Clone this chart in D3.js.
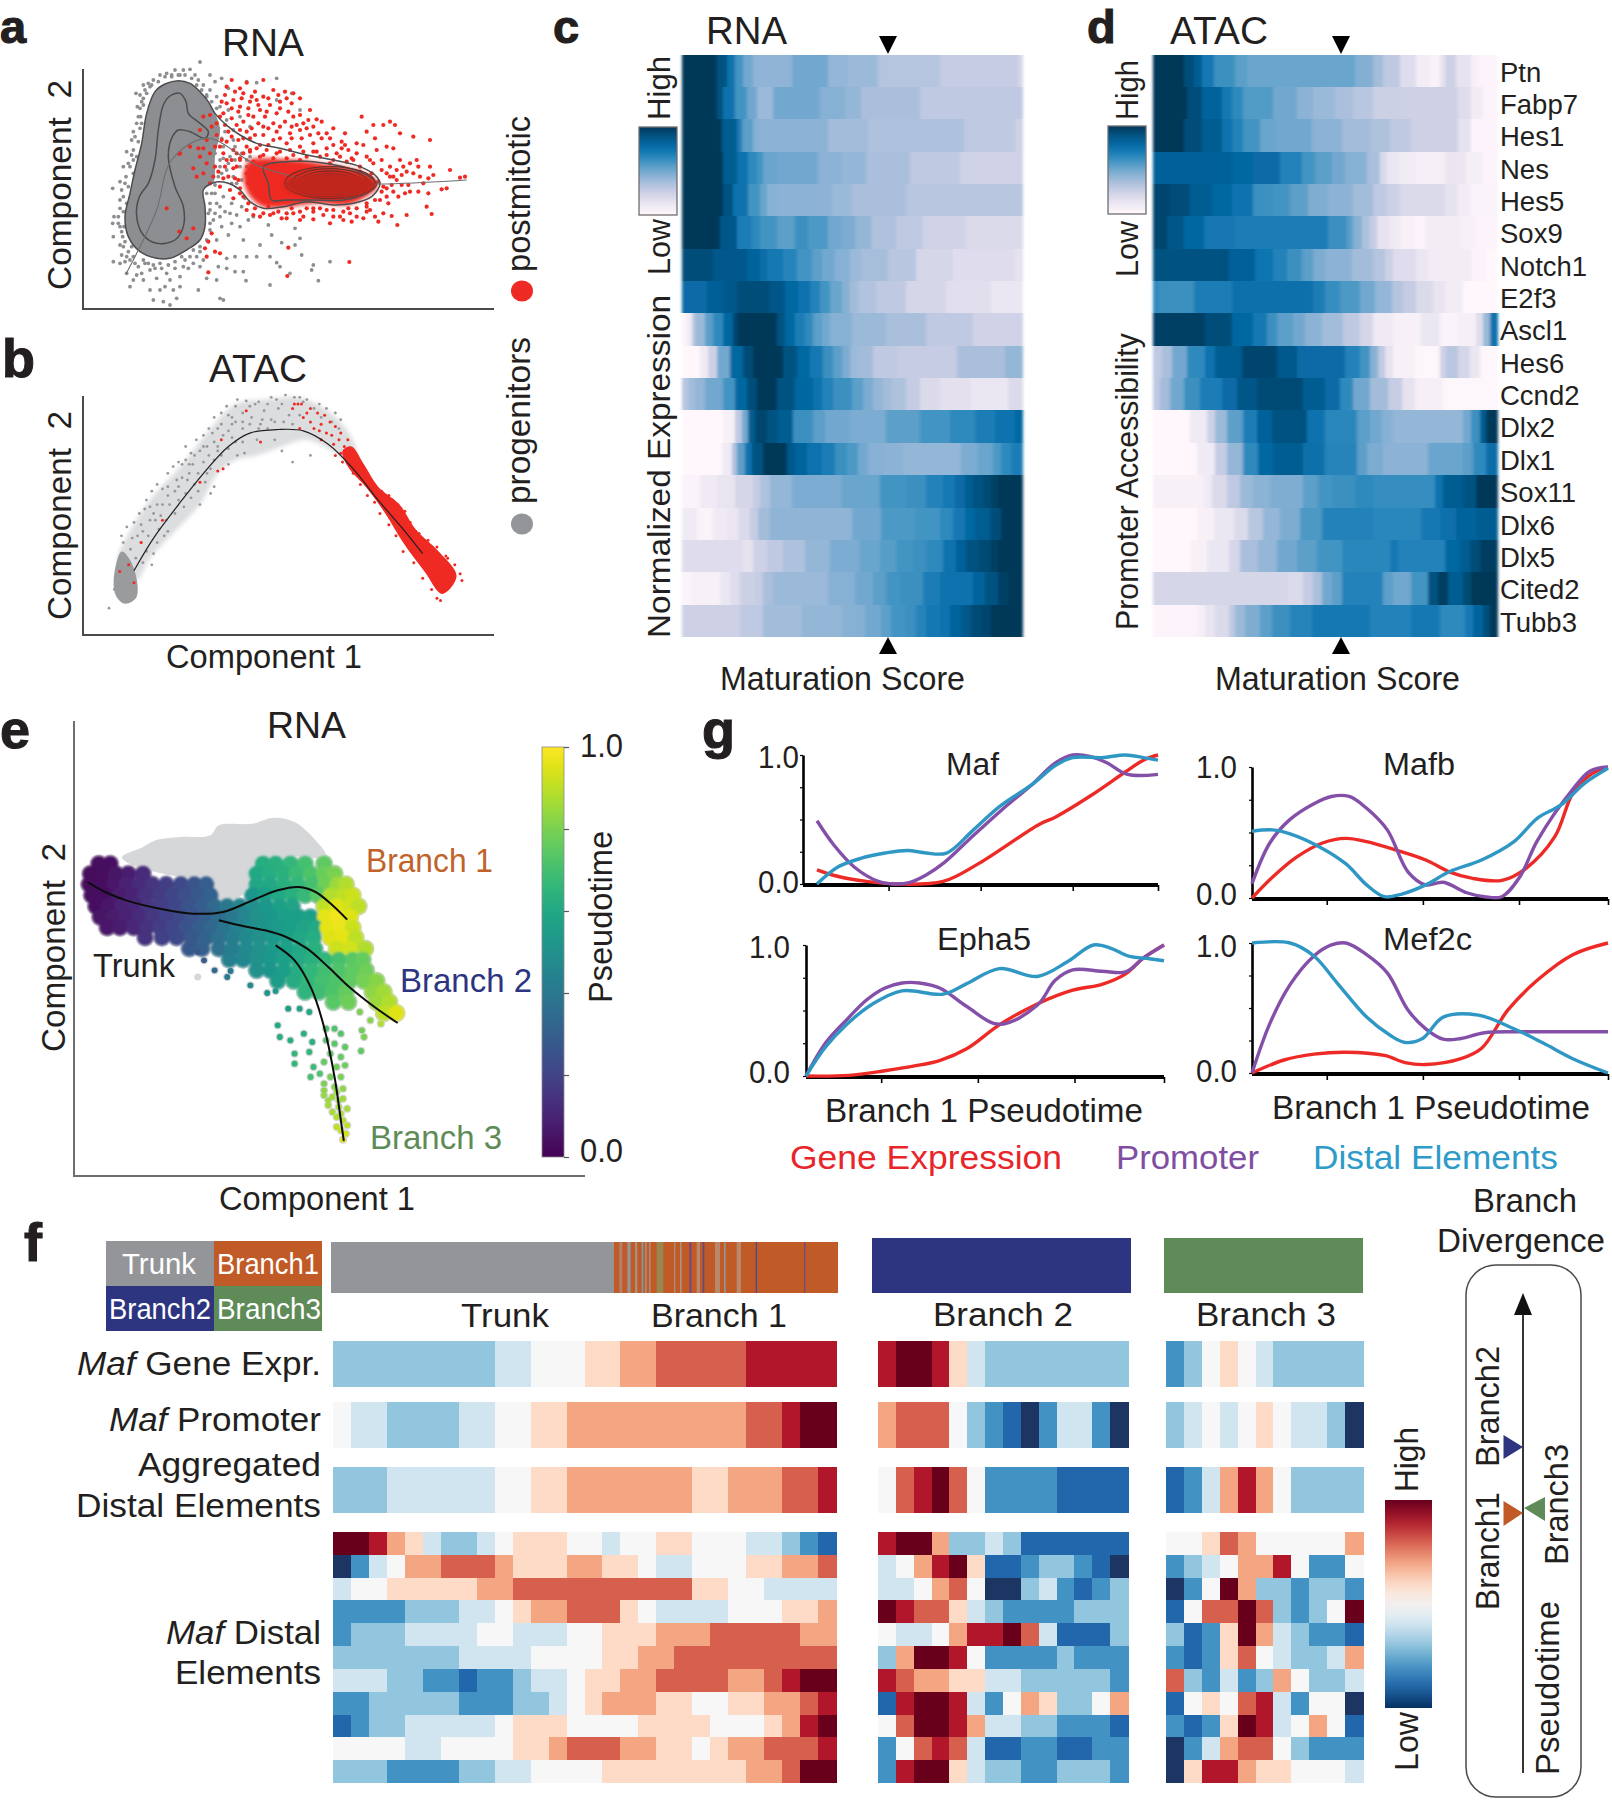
<!DOCTYPE html>
<html><head><meta charset="utf-8"><script src="https://cdn.jsdelivr.net/npm/d3@7"></script>
<style>html,body{margin:0;padding:0;background:#fff}svg{display:block}text{font-family:"Liberation Sans",Arial,sans-serif;fill:#231f20}</style></head><body><div id="chart"></div>
<script>
// ---------- panel a: RNA component space
const aLobe=[[165,95],[195,72],[235,62],[270,70],[300,95],[325,125],[345,160],[360,210],[345,290],[340,368],[310,390],[315,440],[315,500],[300,540],[260,570],[210,595],[170,595],[120,575],[85,530],[75,470],[90,400],[105,330],[125,250],[140,160]];
const aOuterContour=[[165,95],[195,72],[235,62],[270,70],[300,95],[325,125],[345,160],[385,200],[420,225],[470,250],[540,265],[620,285],[700,300],[780,320],[830,350],[840,372],[815,410],[760,430],[700,435],[620,425],[550,440],[490,445],[450,425],[420,390],[385,370],[340,368],[310,390],[315,440],[315,500],[300,540],[260,570],[210,595],[170,595],[120,575],[85,530],[75,470],[90,400],[105,330],[125,250],[140,160]];
const aMidContour=[[190,135],[210,108],[240,100],[258,125],[265,160],[300,190],[325,215],[315,235],[270,215],[235,210],[215,235],[205,290],[225,380],[250,440],[250,500],[225,540],[170,550],[130,525],[110,470],[118,410],[145,370],[165,300],[175,210]];
const aRedContour=[[490,320],[560,305],[640,305],[730,320],[800,345],[830,372],[800,400],[730,420],[640,420],[560,420],[515,420],[505,370]];
const aRedBody=[[450,300],[490,295],[560,298],[650,308],[760,328],[825,358],[825,385],[785,418],[740,435],[650,430],[570,440],[490,440],[460,420],[440,392],[430,340]];
const aCoreRings=[[135,48],[115,42],[95,35],[75,28],[60,22],[42,16],[28,10],[14,5]];
const aTrajectory=[[78,642],[125,550],[170,450],[215,300],[320,235],[480,320],[690,368],[840,372],[1100,360]];
const aGray=[150,80,135,90,120,105,108,100,125,125,112,140,122,170,130,75,160,60,180,45,200,40,225,30,250,30,270,28,285,45,300,6,310,75,330,45,345,65,365,55,385,85,330,90,350,110,440,65,470,68,530,55,575,100,530,120,600,150,360,140,385,150,420,170,400,210,450,200,380,180,100,215,95,240,80,275,100,270,110,190,70,320,90,320,60,365,78,350,38,385,65,390,60,420,42,470,55,470,38,490,60,500,40,530,68,530,40,605,70,560,65,585,90,600,105,610,80,640,110,645,90,680,130,660,150,690,160,720,190,725,210,735,230,715,220,690,195,680,170,655,150,630,200,640,240,650,265,625,225,625,255,600,290,590,300,620,320,655,350,660,295,690,360,715,370,720,380,625,405,635,430,635,438,662,510,675,540,620,570,640,640,615,690,605,635,630,655,662,605,585,585,555,545,548,480,555,510,590,470,590,440,590,405,590,380,595,355,620,530,608,600,535,515,525,585,505,505,495,430,540,385,525,340,480,365,500,395,490,420,500,330,510,350,540,445,480,345,280,360,300,380,330,400,350,420,320,370,260,330,240,300,330,280,370,270,420,285,470,295,500,320,400,340,330,390,290,440,300,460,330,480,360,400,240,450,290,410,370,360,440,345,400,370,410,395,430,425,440,460,470,135,610,160,615,185,625,95,560,80,590,72,500,130,115,145,70,215,50,240,45,295,60,320,110,120,205,100,300,140,100,155,75,175,65,195,50,215,45,235,45,255,45,275,55,290,75,305,90,320,105,335,125,350,145,120,145,130,135,115,170,125,190,105,230,115,245,95,285,110,290,85,310,100,340,75,370,85,380,70,410,80,430,60,445,70,455,55,490,65,515,75,545,60,555,85,575,75,605,100,590,115,620,130,600,145,610,165,625,180,610,205,615,225,605,245,590,270,590,280,570,300,560,320,540,330,490,325,460,330,430,335,400,345,375,355,350,360,320,370,295,365,235,355,205,375,215,405,260,425,280,385,310,405,300,440,320,365,340,395,370,425,360,350,430,375,455,410,465,435,415,330,450,345,460,360,470,390,460,300,575,310,600,280,610,250,620,210,660,180,690,240,680,125,640,60,610,100,660];
const aRed=[395,60,420,85,440,68,490,60,465,95,430,100,380,80,375,105,400,120,450,125,490,110,520,90,555,95,580,100,600,115,575,130,540,125,510,135,480,150,445,145,415,155,380,130,365,125,370,160,395,175,430,185,460,170,495,170,530,160,565,155,600,165,630,150,625,180,650,178,665,185,700,205,735,220,725,245,690,235,655,220,620,205,590,195,555,185,520,190,490,200,455,205,420,210,385,215,350,190,330,165,310,170,335,200,300,210,320,240,350,225,380,245,415,240,450,235,490,225,530,215,570,220,605,235,640,250,680,265,710,280,745,270,770,250,720,290,650,275,600,260,560,250,520,240,480,255,440,260,400,270,360,260,330,280,295,265,270,260,240,280,300,290,345,320,380,300,420,295,460,305,280,325,310,340,340,350,370,355,400,325,440,340,470,350,290,350,330,370,360,380,390,390,420,400,400,415,440,450,460,465,480,470,510,465,545,475,580,460,610,470,640,455,670,465,700,450,720,470,750,460,790,475,810,450,835,485,850,460,875,468,892,495,920,465,690,490,745,445,800,440,780,320,785,170,800,215,820,195,850,195,870,185,885,195,825,235,790,255,770,280,800,290,830,270,860,260,880,265,900,220,940,230,990,240,845,300,870,320,900,300,930,310,955,320,990,320,1000,345,970,370,940,340,905,345,870,350,850,380,880,395,915,400,955,395,985,400,1025,388,1040,385,1050,330,1080,353,1095,350,980,440,995,462,860,410,840,420,200,445,238,515,280,505,260,535,238,282,335,520,325,545,315,565,345,575,360,580,320,590,325,637,565,563,562,648,748,606,405,95,425,115,470,120,505,115,535,105,560,115,455,110,420,140,445,165,475,135,500,155,540,145,580,170,610,190,395,145,360,170,375,195,410,195,440,215,475,190,505,205,540,200,575,200,600,210,630,225,665,235,700,255,735,255,505,255,540,235,575,235,430,235,465,225,395,230,365,240,345,260,310,265,370,280,410,280,450,275,490,285,530,280,570,270,610,275,320,310,355,335,385,350,415,360,445,370,470,395,820,310,860,340,890,360,925,375,960,350,890,330,920,335,985,355,640,200,680,220,430,280,450,270,470,265,500,270,540,275,580,285,620,290,660,290,700,300,740,305,780,335,815,340,835,365,845,395,825,420,800,430,770,445,730,455,680,450,640,445,600,455,560,460,520,460,490,460,465,445,445,430,430,410,420,385,405,355,410,320,420,300,395,300,375,320,480,290,520,295,560,295,600,300,640,275,680,285,725,265,755,295,690,310,560,475,600,480,640,478,660,445,700,470,730,480,770,470,800,455,825,470,755,485,620,445,575,445,535,455,505,440,860,385,875,375,905,375,930,395,895,410,865,430,880,350,910,320,950,300,845,330,810,300,760,300];
// ---------- panel b: ATAC component space
const bBand=[[330,1260],[370,1180],[430,1110],[500,1050],[560,990],[600,950],[660,905],[740,895],[830,890],[900,910],[960,950],[1000,1010],[990,1040],[930,1010],[860,985],[790,1000],[720,1020],[660,1030],[610,1060],[560,1130],[490,1190],[420,1250],[380,1300]];
const bBlob=[[340,1235],[365,1255],[385,1310],[380,1340],[350,1352],[325,1335],[318,1300]];
const bRedBody=[[985,1000],[1020,1040],[1060,1090],[1120,1130],[1165,1185],[1230,1235],[1280,1290],[1240,1330],[1190,1280],[1130,1215],[1080,1150],[1030,1095],[975,1045],[960,1010]];
const bCurve=[[375,1278],[430,1205],[500,1130],[570,1060],[640,1000],[700,970],[780,962],[850,965],[920,995],[990,1050],[1060,1120],[1130,1185],[1185,1240]];
const bGray=[305,1362,320,1320,325,1290,335,1250,345,1215,370,1205,395,1215,380,1250,400,1260,425,1265,405,1140,420,1165,440,1130,445,1185,470,1190,475,1130,490,1100,510,1070,520,1105,545,1085,560,1130,555,1060,570,1035,590,1050,600,990,610,960,625,975,640,1040,640,930,660,910,680,925,700,910,700,950,725,900,760,890,790,905,825,890,810,930,760,940,740,920,770,985,720,985,685,1015,665,1020,580,1000,560,1010,530,1060,500,1120,450,1155,415,1200,600,1090,590,1105,880,915,900,935,930,945,950,960,870,1020,820,1035,790,1010,680,990,650,950,680,960,610,1010,540,1040,520,1030,470,1090,430,1150,400,1190,650,980,730,950,780,915,850,900,840,930,340,1200,355,1180,375,1170,390,1150,410,1120,425,1100,440,1085,455,1095,470,1060,485,1045,500,1035,520,1000,535,1015,550,985,570,975,585,960,600,935,620,925,635,910,650,935,665,895,690,898,715,905,735,940,750,905,775,895,800,885,840,890,860,895,895,905,915,915,940,925,955,940,620,950,640,965,660,945,680,945,705,935,725,960,750,960,770,945,795,945,820,950,570,1000,585,1020,545,1020,510,1040,525,1075,495,1075,470,1110,455,1130,435,1165,420,1135,395,1175,385,1200,365,1230,410,1235,440,1215,465,1165,490,1150,515,1135,535,1115,555,1100,575,1080,600,1030,620,1020,640,1005,660,990,580,1060,595,970,610,1000,530,1040,500,1090,460,1200,430,1240];
const bRed=[835,905,860,925,900,950,930,975,950,985,965,1000,990,1020,1010,1060,1040,1085,1100,1120,1135,1160,1165,1190,1200,1240,1290,1285,1255,1250,1225,1340,900,985,880,960,840,960,820,915,690,920,620,985,610,1055,625,1050,560,1080,455,1165,395,1215,375,1305,360,1265,335,1280,730,990,845,905,870,915,890,925,910,930,925,945,940,955,955,970,975,985,985,1005,1000,1020,870,945,895,965,915,970,935,995,955,1015,940,1020,960,1035,975,1025,1010,1045,1030,1065,1045,1095,1070,1100,1090,1110,1115,1130,1135,1145,1150,1170,1175,1195,1200,1210,1225,1225,1250,1245,1275,1265,1295,1300,1050,1125,1065,1150,1090,1175,1110,1200,1130,1235,1160,1260,1185,1295,1210,1320,1235,1345,990,1060,1010,1085,1030,1110,850,935,825,905];
// ---------- panels c, d: heat rows as [segment end on maturation axis, level]
const geneNames=["Ptn","Fabp7","Hes1","Nes","Hes5","Sox9","Notch1","E2f3","Ascl1","Hes6","Ccnd2","Dlx2","Dlx1","Sox11","Dlx6","Dlx5","Cited2","Tubb3"];
const rnaRows=[
[290,1,320,.9,345,.75,370,.6,400,.5,515,.43,625,.5,685,.42,775,.4,960,.33,1195,.28,1207,.22],
[290,1,310,.9,345,.75,380,.6,410,.5,460,.4,600,.5,675,.45,725,.42,900,.36,1207,.3],
[305,1,350,.85,365,.7,400,.55,420,.45,625,.44,745,.38,1033,.35,1185,.3,1207,.25],
[310,1,350,.85,385,.75,410,.65,430,.6,470,.52,595,.5,665,.44,740,.42,870,.36,1022,.3,1207,.24],
[310,1,340,.9,385,.75,420,.6,440,.52,470,.45,635,.44,695,.4,860,.36,1207,.32],
[300,1,350,.88,395,.7,420,.65,470,.6,525,.55,565,.62,625,.58,665,.5,705,.48,755,.42,830,.35,910,.3,1040,.24,1207,.2],
[280,.92,380,.87,420,.82,440,.77,490,.72,530,.67,575,.6,605,.55,645,.5,690,.45,725,.4,805,.37,890,.32,1000,.22,1187,.18,1207,.15],
[260,.78,310,.84,350,.87,450,.92,495,.88,535,.8,570,.75,600,.68,630,.6,665,.52,690,.45,715,.38,770,.34,860,.3,980,.22,1115,.17,1207,.12],
[200,.02,215,.1,225,.3,255,.4,280,.55,310,.65,340,.8,355,.95,470,1,495,.9,525,.8,555,.7,580,.65,605,.55,630,.5,695,.45,800,.4,920,.36,1060,.3,1207,.24],
[240,0,265,.1,290,.25,330,.5,370,.8,400,.93,490,1,530,.9,570,.8,610,.72,640,.62,665,.55,690,.48,715,.4,760,.38,830,.3,1012,.28,1155,.36,1207,.42],
[205,.32,225,.38,255,.42,310,.5,345,.6,380,.8,410,.92,470,1,525,.9,580,.8,605,.75,640,.68,695,.62,730,.55,760,.48,790,.42,815,.38,860,.35,900,.28,960,.2,1055,.16,1165,.12,1207,.2],
[310,0,345,.05,365,.3,385,.5,405,.85,440,.95,475,.9,520,.85,580,.62,615,.55,690,.5,800,.48,900,.55,990,.6,1065,.65,1125,.7,1185,.75,1207,.8],
[305,0,335,.1,350,.35,375,.55,395,.75,430,.9,500,1,525,.87,560,.82,605,.75,645,.7,680,.62,715,.58,745,.5,790,.45,850,.44,1025,.42,1075,.48,1120,.52,1145,.58,1175,.65,1207,.7],
[240,.03,290,.1,345,.14,400,.22,420,.28,450,.35,515,.42,665,.48,780,.52,860,.6,920,.62,970,.68,1005,.72,1035,.78,1060,.85,1090,.9,1115,.93,1135,.97,1207,1],
[230,.1,280,.03,320,.1,355,.13,390,.2,415,.28,450,.38,695,.43,785,.5,885,.58,960,.6,1000,.65,1035,.72,1065,.8,1110,.85,1145,.92,1207,1],
[370,.18,400,.15,440,.25,490,.3,555,.35,630,.42,720,.48,780,.52,830,.56,880,.6,920,.62,970,.65,1010,.75,1040,.83,1075,.9,1110,.93,1135,.97,1207,1],
[215,.03,300,.05,330,.12,360,.18,405,.26,430,.28,460,.36,625,.4,705,.45,760,.5,800,.55,840,.6,910,.62,960,.7,1060,.75,1095,.82,1135,.9,1165,.97,1207,1],
[360,.25,430,.3,545,.38,665,.42,735,.45,785,.5,815,.55,855,.6,890,.62,920,.67,960,.72,990,.75,1025,.82,1055,.87,1085,.93,1115,.95,1207,1]];
const atacRows=[
[250,1,280,.92,305,.85,340,.72,405,.62,440,.55,765,.52,820,.46,850,.38,900,.3,950,.18,990,.08,1020,.04,1035,.15,1070,.25,1115,.15,1135,.06,1192,.02],
[260,1,305,.92,365,.82,395,.72,430,.65,520,.57,590,.5,640,.44,705,.4,760,.36,820,.32,900,.26,1075,.25,1115,.18,1150,.08,1192,.02],
[250,1,305,.92,365,.85,395,.75,430,.68,480,.6,530,.52,635,.5,725,.44,810,.38,870,.35,935,.3,1075,.25,1115,.15,1192,.02],
[395,.83,460,.8,540,.78,605,.68,645,.6,695,.55,735,.5,800,.45,840,.36,860,.2,900,.12,950,.08,1035,.06,1100,.13,1150,.07,1192,.02],
[210,.95,270,.92,335,.85,395,.8,460,.75,520,.62,570,.6,625,.55,685,.47,760,.44,820,.38,860,.3,900,.25,1035,.2,1075,.15,1110,.08,1192,.03],
[200,.95,250,.88,310,.8,405,.73,685,.7,740,.62,760,.55,785,.45,810,.35,830,.28,870,.15,900,.1,945,.05,975,.02,1085,.08,1130,.05,1192,.02],
[385,.9,465,.83,520,.74,560,.68,605,.62,640,.55,675,.48,755,.44,820,.38,855,.33,880,.26,950,.18,985,.12,1115,.08,1160,.03,1192,0],
[175,.65,280,.62,395,.7,640,.76,675,.7,720,.63,780,.58,825,.5,875,.42,910,.33,950,.28,1000,.2,1035,.14,1090,.08,1192,0],
[315,.97,395,.92,460,.8,500,.72,530,.62,580,.55,615,.5,665,.44,730,.38,780,.3,820,.22,880,.1,965,.05,1020,.12,1075,.03,1130,.06,1150,.18,1170,.4,1192,.75],
[185,.3,215,.36,260,.5,315,.65,345,.75,425,.85,530,.95,590,.87,735,.78,780,.68,810,.6,835,.45,855,.3,880,.15,945,.05,1020,.01,1040,.25,1075,.32,1110,.22,1140,.12,1192,.01],
[180,.3,210,.38,250,.5,300,.62,365,.7,410,.78,470,.88,610,.93,675,.85,720,.78,760,.65,810,.5,865,.38,905,.28,945,.15,1030,.06,1192,.01],
[270,0,320,.1,345,.25,380,.4,430,.55,470,.7,515,.83,620,.9,675,.75,770,.66,810,.55,845,.5,880,.45,1090,.42,1115,.5,1140,.62,1160,.85,1192,1],
[290,0,345,.1,380,.28,430,.42,475,.65,520,.8,610,.85,675,.76,770,.67,800,.55,850,.48,985,.44,1090,.52,1120,.55,1160,.65,1192,.77],
[310,.05,335,.1,380,.2,420,.3,460,.4,510,.44,610,.47,655,.55,695,.6,765,.62,820,.65,1005,.63,1030,.75,1090,.85,1130,.9,1192,1],
[290,0,340,.05,400,.12,445,.2,490,.32,540,.42,600,.48,665,.58,820,.68,965,.66,1020,.72,1070,.76,1130,.82,1192,.85],
[270,0,320,.05,385,.12,420,.22,475,.36,530,.42,590,.5,650,.55,725,.6,870,.66,895,.72,1035,.68,1080,.8,1110,.85,1140,.92,1192,.98],
[565,.22,610,.2,640,.28,665,.36,695,.5,725,.55,850,.68,880,.55,935,.5,985,.6,1015,.9,1045,.98,1090,.85,1115,.93,1192,1],
[290,.02,315,.06,345,.14,385,.2,405,.3,435,.4,480,.47,515,.55,570,.62,635,.67,810,.72,935,.68,1020,.72,1095,.65,1120,.72,1150,.82,1170,.92,1192,1]];
// ---------- panel e: cells as row y + (x, pseudotime) pairs
const eBackground=[[290,470],[340,440],[370,420],[430,410],[500,405],[520,375],[600,370],[650,352],[700,365],[750,420],[775,470],[680,470],[600,510],[590,570],[530,605],[505,590],[500,540],[430,530],[340,505],[300,485]];
const eCells=[
[490,[235,.03,262,.04,625,.62,655,.63,690,.66,725,.7,770,.75]],
[520,[215,.02,245,.03,275,.05,305,.08,340,.12,610,.6,640,.62,672,.64,705,.68,738,.72,770,.77,795,.8]],
[552,[212,.02,240,.03,272,.06,300,.09,332,.12,362,.15,395,.18,430,.22,462,.25,490,.29,610,.59,642,.6,675,.63,708,.66,742,.7,772,.78,802,.85,822,.88]],
[585,[218,.03,250,.04,282,.07,315,.1,345,.14,378,.17,408,.2,440,.24,470,.27,500,.31,600,.52,630,.56,662,.6,695,.63,725,.67,755,.74,785,.88,815,.9,838,.92]],
[618,[228,.04,258,.06,290,.09,322,.11,352,.15,385,.18,418,.21,448,.25,480,.29,510,.34,540,.4,570,.45,600,.49,632,.53,665,.57,695,.58,770,.9,800,.95,832,.93,852,.9]],
[650,[238,.05,268,.07,300,.09,332,.12,362,.16,395,.19,428,.22,458,.26,490,.3,520,.35,552,.4,582,.45,612,.5,645,.53,678,.56,710,.56,738,.57,772,.96,802,.98,832,.95]],
[682,[255,.06,285,.08,318,.11,348,.14,380,.18,412,.21,442,.25,472,.29,502,.33,535,.39,565,.44,598,.49,628,.52,660,.54,692,.56,722,.58,750,.6,778,.96,810,.97,838,.92]],
[712,[345,.14,385,.19,420,.22,455,.27,490,.32,520,.37,552,.42,585,.47,615,.5,648,.53,680,.56,712,.59,745,.62,785,.95,815,.96,845,.9]],
[745,[450,.27,480,.3,520,.37,552,.42,585,.47,618,.51,650,.54,682,.57,715,.6,748,.63,800,.92,832,.93,868,.88]],
[778,[545,.43,578,.46,610,.5,642,.53,675,.57,708,.6,740,.63,772,.66,805,.7,838,.74,862,.76]],
[810,[610,.5,642,.52,675,.56,708,.62,740,.66,772,.69,805,.72,838,.75,870,.78]],
[842,[660,.55,698,.61,732,.66,765,.7,798,.72,830,.75,865,.79,895,.82]],
[875,[725,.65,758,.69,790,.72,822,.76,885,.83,912,.86]],
[905,[792,.74,828,.78,895,.85,925,.88]],
[938,[912,.9,942,.95]]];
const eStem=[775,985,.72,795,985,.72,810,1000,.73,775,1020,.73,795,1030,.74,820,1040,.75,785,1060,.75,810,1070,.76,770,1085,.76,800,1100,.78,820,1095,.78,785,1130,.79,810,1130,.8,770,1150,.8,795,1160,.82,815,1165,.83,770,1185,.84,790,1190,.85,815,1195,.85,780,1215,.86,805,1220,.87,825,1225,.87,800,1250,.88,815,1260,.89,825,1275,.9,810,1290,.92,822,1300,.93,815,1318,.95,800,1280,.9,780,1200,.85,800,1175,.84,790,1235,.87,810,1240,.88,770,1170,.83,805,1200,.86,470,755,.26,485,780,.28,510,810,.34,540,830,.4,548,812,.4,595,855,.48,635,878,.52,655,872,.54,685,925,.56,712,925,.58,735,935,.6,660,975,.6,665,1010,.62,690,1020,.62,722,1000,.64,742,1025,.64,700,1060,.66,735,1055,.66,700,1090,.66,745,1100,.68,738,1130,.7,760,1120,.72,860,990,.78,865,1010,.8,858,1052,.75,855,935,.8,880,960,.82,905,970,.88];
const eTrunkB1=[[208,545],[250,575],[300,600],[380,625],[460,640],[530,635],[600,600],[660,570],[710,560],[750,575],[790,615],[825,658]];
const eB2=[[520,660],[580,678],[630,690],[680,710],[730,745],[780,800],[830,860],[890,920],[945,968]];
const eB3=[[655,735],[700,780],[740,865],[770,980],[795,1130],[810,1260],[817,1322]];
const pseudoTicks=[0,.2,.4,.6,.8,1];
// ---------- panel f: expression levels -5 (low) .. +5 (high)
const fLegend=[["Trunk","#939598"],["Branch1","#c05a27"],["Branch2","#2d3580"],["Branch3","#5e8b58"]];
const stripeList=[[58,67,"#b0826a"],[82,92,"#939598"],[105,112,"#a8927f"],[125,130,"#7f9aa8"],[135,140,"#a88f7a"],[147,152,"#a88f7a"],[170,190,"#98884f"],[222,226,"#a88f7a"],[240,245,"#a8927f"],[268,274,"#6b4a85"],[290,300,"#b8886a"],[308,313,"#5e4a8a"],[345,360,"#b8886a"],[372,377,"#939598"],[410,423,"#b8886a"],[467,471,"#4a4a8f"],[612,616,"#6b4a85"]];
const trunkGene=[-2,-2,-2,-2,-2,-2,-2,-2,-2,-1,-1,0,0,0,1,1,2,2,3,3,3,3,3,4,4,4,4,4];
const trunkPromoter=[0,-1,-1,-2,-2,-2,-2,-1,-1,0,0,1,1,2,2,2,2,2,2,2,2,2,2,3,3,4,5,5];
const trunkAggregate=[-2,-2,-2,-1,-1,-1,-1,-1,-1,0,0,1,1,2,2,2,2,2,2,2,1,1,2,2,2,3,3,4];
const trunkDistal=[
[5,5,4,2,1,-1,-2,-2,-1,0,1,1,1,0,0,-1,0,0,1,1,0,0,0,-1,-1,-2,-3,-4],
[-5,-3,-1,0,2,2,3,3,3,2,1,1,1,2,2,1,1,0,-1,-1,0,0,0,1,1,2,2,3],
[-1,0,0,1,1,1,1,1,2,2,3,3,3,3,3,3,3,3,3,3,1,1,0,0,-1,-1,-1,-1],
[-3,-3,-3,-3,-2,-2,-2,-1,-1,0,1,2,2,3,3,3,1,0,-1,-1,-1,-1,0,0,0,1,1,2],
[-3,-2,-2,-2,-1,-1,-1,-1,0,0,-1,-1,-1,0,0,1,1,1,2,2,2,3,3,3,3,3,2,2],
[-2,-2,-2,-2,-2,-2,-2,-1,-1,-1,-1,0,0,0,0,1,1,2,2,3,3,3,3,3,3,3,3,3],
[-1,-1,-1,-2,-2,-3,-3,-4,-3,-3,-2,-1,-1,0,1,1,2,2,3,3,3,3,2,2,3,4,5,5],
[-3,-3,-2,-2,-2,-2,-2,-3,-3,-3,-2,-2,-1,0,1,2,2,2,1,1,0,0,1,1,2,2,3,4],
[-4,-3,-2,-2,-1,-1,-1,-1,-1,0,1,1,1,0,0,0,0,1,1,1,1,0,0,0,1,2,4,5],
[0,0,0,0,-1,-1,0,0,0,0,1,1,2,3,3,3,2,2,1,1,0,1,2,2,3,3,3,4],
[-2,-2,-2,-3,-3,-3,-3,-2,-2,-1,-1,0,0,0,0,1,1,1,1,1,1,1,1,2,2,3,5,5]];
const b2Gene=[4,5,5,4,1,-1,-2,-2,-2,-2,-2,-2,-2,-2];
const b2Promoter=[2,3,3,3,0,-2,-3,-4,-5,-3,-1,-1,-3,-5];
const b2Aggregate=[0,3,4,5,3,0,-3,-3,-3,-3,-4,-4,-4,-4];
const b2Distal=[
[4,5,5,2,-2,-2,-1,-2,-4,-4,-4,-4,-4,-4],
[-1,0,2,4,5,1,-4,-4,-3,-2,-2,-3,-4,-5],
[-1,-1,0,2,3,0,-5,-5,-2,-1,-3,-4,-3,-2],
[5,4,3,3,1,-1,-2,-3,-3,-3,-3,-2,-2,-2],
[0,-1,-1,0,2,4,4,5,3,-1,-4,-4,-4,-2],
[-2,2,5,5,4,0,-3,-3,-3,-3,-2,-3,-3,-3],
[4,3,2,2,1,1,-1,-1,-2,-2,-2,-2,-2,-3],
[-4,4,5,5,4,-1,-3,0,2,1,-2,-2,0,2],
[0,3,5,5,4,2,-1,-1,-2,-2,-3,-3,-3,-4],
[-3,0,3,4,3,-1,-4,-4,-3,-3,-4,-4,-3,-3],
[-3,4,5,5,1,-1,-2,-2,-3,-3,-2,-2,-2,-3]];
const b3Gene=[-3,-2,0,1,0,-1,-2,-2,-2,-2,-2];
const b3Promoter=[-2,-1,0,-1,0,1,0,-1,-1,-2,-5];
const b3Aggregate=[-4,-3,-1,2,4,2,0,-2,-2,-2,-2];
const b3Distal=[
[0,0,1,3,2,0,0,0,0,0,2],
[-3,-2,-1,0,2,2,4,0,-3,-3,0],
[-5,-3,0,5,2,-2,-2,-3,-2,-2,-3],
[-4,0,3,3,5,3,-2,-3,-2,0,5],
[-2,-4,-3,1,5,2,-1,-2,-3,-3,-4],
[-3,-4,-3,1,3,0,-1,-2,-2,-1,2],
[3,-2,-3,-1,-3,-2,2,0,-2,-2,-1],
[-4,0,1,0,3,4,-1,-3,0,0,-5],
[-3,-4,-3,1,5,4,-1,0,2,0,-4],
[-5,-3,-1,2,3,3,0,-2,-3,-3,-3],
[-5,1,4,4,2,1,1,0,0,0,-1]];
const levelColors=["#1c3563","#2166ac","#4393c3","#92c5de","#d1e5f0","#f7f7f7","#fddbc7","#f4a582","#d6604d","#b2182b","#67001f"];
// ---------- panel g: [pseudotime, value] pairs
const gTicks=[.21,.48,.75,1];
const mafGene=[[0,.11],[.06,.06],[.145,.02],[.23,0],[.37,.02],[.475,.16],[.65,.46],[.7,.52],[.8,.68],[.905,.87],[.957,.96],[1,1]];
const mafPromoter=[[0,.49],[.05,.3],[.11,.13],[.18,.02],[.225,0],[.27,.01],[.32,.07],[.37,.16],[.44,.33],[.54,.57],[.63,.77],[.7,.94],[.75,1],[.8,.99],[.85,.94],[.91,.85],[1,.85]];
const mafDistal=[[0,0],[.06,.13],[.13,.2],[.2,.24],[.265,.26],[.32,.24],[.38,.24],[.455,.41],[.535,.6],[.63,.77],[.7,.92],[.75,.98],[.835,.98],[.905,1],[.957,.98],[1,.96]];
const mafbGene=[[0,0],[.058,.16],[.124,.31],[.198,.42],[.264,.455],[.322,.43],[.405,.365],[.488,.29],[.554,.2],[.62,.15],[.702,.135],[.769,.225],[.851,.47],[.901,.8],[.95,.94],[1,1]];
const mafbPromoter=[[0,.11],[.05,.42],[.107,.6],[.174,.72],[.223,.775],[.273,.775],[.322,.685],[.38,.52],[.438,.2],[.488,.1],[.537,.12],[.603,.04],[.653,.01],[.702,.01],[.752,.16],[.802,.44],[.901,.83],[.95,.97],[1,1]];
const mafbDistal=[[0,.51],[.058,.52],[.107,.49],[.19,.39],[.264,.26],[.322,.1],[.372,.01],[.421,.03],[.488,.1],[.554,.2],[.645,.29],[.736,.43],[.802,.61],[.868,.71],[.934,.875],[1,.99]];
const epha5Gene=[[0,0],[.12,.005],[.22,.04],[.3,.075],[.375,.12],[.45,.21],[.54,.39],[.646,.55],[.745,.655],[.827,.7],[.893,.78],[.942,.9],[1,1]];
const epha5Promoter=[[0,0],[.054,.25],[.112,.425],[.169,.58],[.219,.67],[.268,.71],[.317,.71],[.375,.67],[.449,.53],[.54,.395],[.646,.54],[.696,.73],[.745,.81],[.827,.8],[.893,.795],[.942,.9],[1,1]];
const epha5Distal=[[0,0],[.054,.22],[.112,.39],[.186,.55],[.268,.65],[.383,.625],[.449,.705],[.54,.82],[.646,.76],[.729,.87],[.803,1],[.852,.975],[.901,.915],[.959,.895],[1,.88]];
const mef2cGene=[[0,0],[.09,.1],[.174,.145],[.264,.16],[.372,.135],[.43,.08],[.488,.065],[.587,.11],[.645,.19],[.719,.485],[.802,.715],[.901,.91],[1,1]];
const mef2cPromoter=[[0,0],[.05,.38],[.107,.68],[.174,.9],[.223,.985],[.264,1],[.322,.91],[.38,.77],[.438,.485],[.488,.34],[.537,.26],[.587,.265],[.653,.31],[.769,.317],[1,.317]];
const mef2cDistal=[[0,1],[.107,1],[.174,.9],[.24,.69],[.322,.43],[.388,.29],[.43,.235],[.479,.265],[.537,.43],[.636,.445],[.736,.34],[.818,.23],[.901,.11],[1,0]];
const branchDivergence=[["Branch2","#2d3580",1447],["Branch1","#c05a27",1513],["Branch3","#5e8b58",1508]];

// ---------- drawing
const svg=d3.select("#chart").append("svg").attr("width",1612).attr("height",1800);
const defs=svg.append("defs");
const mkBlur=(id,s)=>defs.append("filter").attr("id",id).attr("x","-5%").attr("y","-5%").attr("width","110%").attr("height","110%").append("feGaussianBlur").attr("stdDeviation",s);
mkBlur("soft","1.4 0.4");mkBlur("soft2",.45);mkBlur("soft3",2.2);mkBlur("soft4",1);
function vGradient(id,interp){const g=defs.append("linearGradient").attr("id",id).attr("x1",0).attr("x2",0).attr("y1",0).attr("y2",1);
  d3.range(0,1.001,.05).forEach(o=>g.append("stop").attr("offset",o).attr("stop-color",interp(1-o)));}
function label(str,x,y,o={}){const t=svg.append("text").attr("x",x).attr("y",y).attr("font-size",o.size||33).text(str);
  if(o.bold)t.attr("font-weight","bold").style("stroke","#231f20").style("stroke-width",1.1);if(o.fill)t.style("fill",o.fill);t.attr("text-anchor",o.anchor||"start");
  if(o.len)t.attr("textLength",o.len).attr("lengthAdjust","spacingAndGlyphs");if(o.rot)t.attr("transform",`rotate(-90 ${x} ${y})`);return t;}
function rotLabel(str,x,yBottom,yTop,size,fill){return label(str,x,yBottom,{size,rot:true,len:yBottom-yTop,fill});}
const pairs=a=>d3.range(0,a.length,2).map(i=>[a[i],a[i+1]]);
function axesL(x,top,bottom,right,col,w){svg.append("path").attr("fill","none").attr("stroke",col).attr("stroke-width",w).attr("d",`M${x},${top}V${bottom}H${right}`);}
// a
{const x=d3.scaleLinear([-51,1182],[83,494]),y=d3.scaleLinear([27,747],[69,309]);
 const closed=d3.line().x(d=>x(d[0])).y(d=>y(d[1])).curve(d3.curveCatmullRomClosed),open=d3.line().x(d=>x(d[0])).y(d=>y(d[1])).curve(d3.curveCatmullRom);
 const g=svg.append("g").attr("filter","url(#soft2)");
 g.append("path").attr("d",closed(aLobe)).attr("fill","#8d8e91");
 g.selectAll(null).data(pairs(aGray)).join("circle").attr("cx",d=>x(d[0])).attr("cy",d=>y(d[1])).attr("r",1.9).attr("fill","#8d8e91");
 svg.append("path").attr("d",closed(aRedBody)).attr("fill","#ee2a24").attr("filter","url(#soft3)");
 const h=svg.append("g").attr("filter","url(#soft2)");
 h.selectAll(null).data(pairs(aRed)).join("circle").attr("cx",d=>x(d[0])).attr("cy",d=>y(d[1])).attr("r",2.1).attr("fill","#ee2a24");
 svg.append("ellipse").attr("cx",x(690)).attr("cy",y(375)).attr("rx",x(830)-x(690)).attr("ry",y(412)-y(375)).attr("fill","#c0281c").attr("filter","url(#soft3)");
 [aOuterContour,aMidContour,aRedContour].forEach(c=>h.append("path").attr("d",closed(c)).attr("fill","none").attr("stroke","#4d4d4f").attr("stroke-width",1.5));
 h.append("path").attr("d",open(aTrajectory)).attr("fill","none").attr("stroke","#6d6e70").attr("stroke-width",1.1);
 h.selectAll(null).data(aCoreRings).join("ellipse").attr("cx",x(690)).attr("cy",y(368)).attr("rx",d=>x(d[0])-x(0)).attr("ry",d=>y(d[1])-y(0)).attr("fill","none").attr("stroke","#6b2f28").attr("stroke-width",1.3);
 axesL(83,69,309,494,"#4a4a4c",2);}
// b
{const x=d3.scaleLinear([232,1385],[83,494]),y=d3.scaleLinear([887,1422],[396,635]);
 const closed=d3.line().x(d=>x(d[0])).y(d=>y(d[1])).curve(d3.curveCatmullRomClosed),open=d3.line().x(d=>x(d[0])).y(d=>y(d[1])).curve(d3.curveCatmullRom);
 svg.append("path").attr("d",closed(bBand)).attr("fill","#dcdddf").attr("filter","url(#soft3)");
 const g=svg.append("g").attr("filter","url(#soft2)");
 g.append("path").attr("d",closed(bBlob)).attr("fill","#9a9b9d");
 g.selectAll(null).data(pairs(bGray)).join("circle").attr("cx",d=>x(d[0])).attr("cy",d=>y(d[1])).attr("r",1.4).attr("fill","#97989a");
 g.append("path").attr("d",closed(bRedBody)).attr("fill","#ee2a24");
 g.selectAll(null).data(pairs(bRed)).join("circle").attr("cx",d=>x(d[0])).attr("cy",d=>y(d[1])).attr("r",1.5).attr("fill","#ee2a24");
 g.append("path").attr("d",open(bCurve)).attr("fill","none").attr("stroke","#231f20").attr("stroke-width",1.2);
 axesL(83,396,635,494,"#4a4a4c",2);}
// c, d heat
vGradient("gPuBu",d3.interpolatePuBu);
function heat(rows,xDom,xRange){const x=d3.scaleLinear(xDom,xRange),y=d3.scaleBand(d3.range(18),[54.5,637]);
 const g=svg.append("g").attr("filter","url(#soft)").attr("shape-rendering","crispEdges");
 rows.forEach((r,i)=>{let prev=xDom[0];pairs(r).forEach(([end,v])=>{g.append("rect").attr("x",x(prev)).attr("y",y(i)).attr("width",x(end)-x(prev)+.6).attr("height",y.bandwidth()+.4).attr("fill",d3.interpolatePuBu(v));prev=end;});});
 return y;}
heat(rnaRows,[186,1207],[682,1022]);
const rowY=heat(atacRows,[158,1192],[1153,1497]);
function tri(x,tip,base,hw,fill){svg.append("path").attr("d",`M${x},${tip}L${x-hw},${base}L${x+hw},${base}Z`).attr("fill",fill||"#000");}
[[888],[1341]].forEach(([x])=>{tri(x,54,36,9);tri(x,637,654,9);});
[[639,127],[1108,126]].forEach(([x,y])=>svg.append("rect").attr("x",x).attr("y",y).attr("width",38).attr("height",88).attr("fill","url(#gPuBu)").attr("stroke","#6d6e70").attr("stroke-width",1.3));
geneNames.forEach((n,i)=>label(n,1500,rowY(i)+27,{size:27.5}));
// e
vGradient("gViridis",d3.interpolateViridis);
{const x=d3.scaleLinear([176,1390],[74,585]),y=d3.scaleLinear([62,1427],[721,1176]);
 const closed=d3.line().x(d=>x(d[0])).y(d=>y(d[1])).curve(d3.curveCatmullRomClosed),open=d3.line().x(d=>x(d[0])).y(d=>y(d[1])).curve(d3.curveCatmullRom);
 const cells=eCells.flatMap(([cy,r])=>pairs(r).map(([cx,t])=>[cx,cy,t]));
 const stem=d3.range(0,eStem.length,3).map(i=>eStem.slice(i,i+3));
 const g=svg.append("g").attr("filter","url(#soft2)");
 g.append("path").attr("d",closed(eBackground)).attr("fill","#d6d7d9");
 g.selectAll(null).data(cells).join("circle").attr("cx",d=>x(d[0])).attr("cy",d=>y(d[1])).attr("r",9.2).attr("fill","#d6d7d9");
 g.selectAll(null).data(stem).join("circle").attr("cx",d=>x(d[0])).attr("cy",d=>y(d[1])).attr("r",4.2).attr("fill","#d6d7d9");
 const c=svg.append("g").attr("filter","url(#soft4)");
 c.selectAll(null).data(cells).join("circle").attr("cx",d=>x(d[0])).attr("cy",d=>y(d[1])).attr("r",8).attr("fill",d=>d3.interpolateViridis(d[2]));
 const s=svg.append("g").attr("filter","url(#soft2)");
 s.selectAll(null).data(stem).join("circle").attr("cx",d=>x(d[0])).attr("cy",d=>y(d[1])).attr("r",2.9).attr("fill",d=>d3.interpolateViridis(d[2]));
 s.append("circle").attr("cx",x(470)).attr("cy",y(830)).attr("r",3.5).attr("fill","#d6d7d9");
 [eTrunkB1,eB2,eB3].forEach(p=>svg.append("path").attr("d",open(p)).attr("fill","none").attr("stroke","#0c0c0c").attr("stroke-width",2));
 axesL(74,721,1176,585,"#6d6e70",2);
 const scale=d3.scaleLinear([0,1],[1157,747]);
 svg.append("rect").attr("x",542).attr("y",747).attr("width",22).attr("height",410).attr("fill","url(#gViridis)").attr("stroke","#8a8a8a").attr("stroke-width",.8);
 const ax=svg.append("g").attr("transform","translate(564,0)").call(d3.axisRight(scale).tickValues(pseudoTicks).tickSize(5).tickFormat(""));
 ax.select(".domain").remove();ax.selectAll("line").attr("stroke","#555").attr("stroke-width",1.2);}
// f
const fx=d3.scaleOrdinal(d3.range(-5,6),levelColors);
function fGroup(x0,x1,gene,prom,agg,dist){const n=gene.length,x=d3.scaleBand(d3.range(n),[x0,x1]);
 const g=svg.append("g").attr("filter","url(#soft2)").attr("shape-rendering","crispEdges");
 const row=(vals,y0,h)=>vals.forEach((v,i)=>g.append("rect").attr("x",x(i)).attr("y",y0).attr("width",x.bandwidth()+.5).attr("height",h).attr("fill",fx(v)));
 row(gene,1341,46);row(prom,1402,46);row(agg,1467,46);
 const y=d3.scaleBand(d3.range(dist.length),[1532,1783]);dist.forEach((r,i)=>row(r,y(i),y.bandwidth()+.4));}
fGroup(333,836,trunkGene,trunkPromoter,trunkAggregate,trunkDistal);
fGroup(878,1128,b2Gene,b2Promoter,b2Aggregate,b2Distal);
fGroup(1166,1363,b3Gene,b3Promoter,b3Aggregate,b3Distal);
{const col=d3.scaleBand(d3.range(2),[106,322]),rw=d3.scaleBand(d3.range(2),[1241,1331]);
 fLegend.forEach(([n,c],i)=>svg.append("rect").attr("x",col(i%2)).attr("y",rw(i>>1)).attr("width",col.bandwidth()).attr("height",rw.bandwidth()).attr("fill",c));
 label("Trunk",122,1274,{size:30,fill:"#fff",len:74});label("Branch1",217,1274,{size:30,fill:"#fff",len:102});
 label("Branch2",109,1319,{size:30,fill:"#fff",len:102});label("Branch3",217,1319,{size:30,fill:"#fff",len:104});
 svg.append("rect").attr("x",331).attr("y",1242).attr("width",283).attr("height",51).attr("fill","#939598");
 svg.append("rect").attr("x",614).attr("y",1242).attr("width",224).attr("height",51).attr("fill","#c05a27");
 const sx=d3.scaleLinear([0,713],[600,837.7]);
 svg.selectAll(null).data(stripeList).join("rect").attr("x",d=>sx(d[0])).attr("y",1242).attr("width",d=>sx(d[1])-sx(d[0])).attr("height",51).attr("fill",d=>d[2]);
 svg.append("rect").attr("x",872).attr("y",1238).attr("width",259).attr("height",55).attr("fill","#2d3580");
 svg.append("rect").attr("x",1164).attr("y",1238).attr("width",199).attr("height",55).attr("fill","#5e8b58");}
vGradient("gRdBu",t=>d3.interpolateRdBu(1-t));
svg.append("rect").attr("x",1385).attr("y",1500).attr("width",47).attr("height",208).attr("fill","url(#gRdBu)");
// g
function gPanel(left,top,bottom,x0,right,gene,prom,dist){const x=d3.scaleLinear([0,1],[x0,right]),y=d3.scaleLinear([0,1],[bottom,top]);
 const line=d3.line().x(d=>x(d[0])).y(d=>y(d[1])).curve(d3.curveCatmullRom);
 const ab=svg.append("g").attr("transform",`translate(0,${bottom+1})`).call(d3.axisBottom(x).tickValues(gTicks).tickSize(6).tickSizeOuter(0).tickFormat(""));
 ab.select(".domain").attr("d",`M${left},0H${right}`).attr("stroke","#000").attr("stroke-width",4);ab.selectAll("line").attr("stroke","#000").attr("stroke-width",1.6);
 const al=svg.append("g").attr("transform",`translate(${left},0)`).call(d3.axisLeft(y).tickValues([0,.25,.5,.75,1]).tickSize(3).tickSizeOuter(0).tickFormat(""));
 al.select(".domain").attr("stroke","#000").attr("stroke-width",2.6);al.selectAll("line").attr("stroke","#000").attr("stroke-width",1.2);
 [[gene,"#ed2a26"],[prom,"#8450a8"],[dist,"#2f97c4"]].forEach(([d,c])=>svg.append("path").attr("d",line(d)).attr("fill","none").attr("stroke",c).attr("stroke-width",3.4).attr("filter","url(#soft2)"));}
gPanel(803,755,884,817,1158,mafGene,mafPromoter,mafDistal);
gPanel(1252,767,898,1252,1608,mafbGene,mafbPromoter,mafbDistal);
gPanel(806,945,1076,806,1164,epha5Gene,epha5Promoter,epha5Distal);
gPanel(1252,943,1073,1252,1608,mef2cGene,mef2cPromoter,mef2cDistal);
// branch divergence box
svg.append("rect").attr("x",1466).attr("y",1265).attr("width",115).attr("height",532).attr("rx",30).attr("fill","none").attr("stroke","#4a4a4c").attr("stroke-width",1.5);
svg.append("line").attr("x1",1523).attr("x2",1523).attr("y1",1773).attr("y2",1305).attr("stroke","#231f20").attr("stroke-width",1.8);
tri(1523,1293,1315,9,"#111");
svg.append("path").attr("d","M1523,1447L1503.5,1435V1459Z").attr("fill",branchDivergence[0][1]);
svg.append("path").attr("d","M1523,1513L1503.5,1501V1526Z").attr("fill",branchDivergence[1][1]);
svg.append("path").attr("d","M1524,1508L1545,1497V1521Z").attr("fill",branchDivergence[2][1]);
// ---------- text
[["a",0,43,47],["b",2,377,54],["c",553,43,47],["d",1087,43,47],["e",0,748,54],["g",702,748,54],["f",24,1261,54]].forEach(([s,x,y,z])=>label(s,x,y,{size:z,bold:true}));
label("RNA",222,56,{size:39,len:82});label("ATAC",209,382,{size:38,len:98});
const c2="Component\u00a0\u00a02";
rotLabel(c2,71,290,80,33);rotLabel(c2,71,620,411,33);
label("Component 1",166,668,{size:33,len:196});
rotLabel("postmitotic",530,272,116,33);rotLabel("progenitors",530,504,337,33);
svg.append("ellipse").attr("cx",522).attr("cy",291).attr("rx",11).attr("ry",10.5).attr("fill","#ee2a24");
svg.append("ellipse").attr("cx",522).attr("cy",524).attr("rx",11).attr("ry",10.5).attr("fill","#939598");
label("RNA",706,44,{size:38,len:81});label("ATAC",1170,44,{size:38,len:98});
rotLabel("High",670,120,56,31);rotLabel("Low",670,275,219,31);rotLabel("Normalized Expression",670,638,295,31);
rotLabel("High",1138,120,60,31);rotLabel("Low",1138,277,221,31);rotLabel("Promoter Accessibility",1138,630,333,31);
label("Maturation Score",720,690,{size:33,len:245});label("Maturation Score",1215,690,{size:33,len:245});
label("RNA",267,738,{size:36,len:79});rotLabel(c2,65,1052,843,33);label("Component 1",219,1210,{size:33,len:196});
label("Trunk",93,977,{size:33,len:82});
label("Branch 1",366,872,{size:33,len:127,fill:"#c0622a"});label("Branch 2",400,992,{size:33,len:132,fill:"#2d3580"});label("Branch 3",370,1149,{size:33,len:132,fill:"#5e8b58"});
label("1.0",580,757,{size:33,len:43});label("0.0",580,1162,{size:33,len:43});rotLabel("Pseudotime",612,1003,831,33);
[[758,768,893,"Maf",946,775,53],[1196,778,905,"Mafb",1383,775,72],[749,958,1083,"Epha5",937,950,94],[1196,957,1082,"Mef2c",1383,950,89]].forEach(([lx,y1,y0,t,tx,ty,tl])=>{label("1.0",lx,y1,{size:31,len:41});label("0.0",lx,y0,{size:31,len:41});label(t,tx,ty,{size:31,len:tl});});
label("Branch 1 Pseudotime",825,1122,{size:33,len:318});label("Branch 1 Pseudotime",1272,1119,{size:33,len:318});
label("Gene Expression",790,1169,{size:33,len:272,fill:"#e8262a"});label("Promoter",1116,1169,{size:33,len:143,fill:"#7f4ea3"});label("Distal Elements",1313,1169,{size:33,len:245,fill:"#2e9bc9"});
label("Trunk",461,1327,{size:33,len:88});label("Branch 1",651,1327,{size:33,len:136});label("Branch 2",933,1326,{size:33,len:140});label("Branch 3",1196,1326,{size:33,len:140});
function mafLabel(rest,y,x0){const t=svg.append("text").attr("x",x0).attr("y",y).attr("font-size",34).attr("textLength",321-x0).attr("lengthAdjust","spacingAndGlyphs");t.append("tspan").attr("font-style","italic").text("Maf");t.append("tspan").text(rest);}
mafLabel(" Gene Expr.",1375,77);mafLabel(" Promoter",1431,109);mafLabel(" Distal",1644,166);
label("Aggregated",138,1476,{size:34,len:183});label("Distal Elements",76,1517,{size:34,len:245});label("Elements",175,1684,{size:34,len:146});
rotLabel("High",1418,1492,1427,33);rotLabel("Low",1418,1771,1712,33);
label("Branch",1473,1212,{size:33,len:104});label("Divergence",1437,1252,{size:33,len:168});
rotLabel("Branch2",1499,1467,1346,33);rotLabel("Branch1",1499,1610,1492,33);rotLabel("Branch3",1568,1565,1444,33);rotLabel("Pseudotime",1559,1775,1601,33);
</script></body></html>
